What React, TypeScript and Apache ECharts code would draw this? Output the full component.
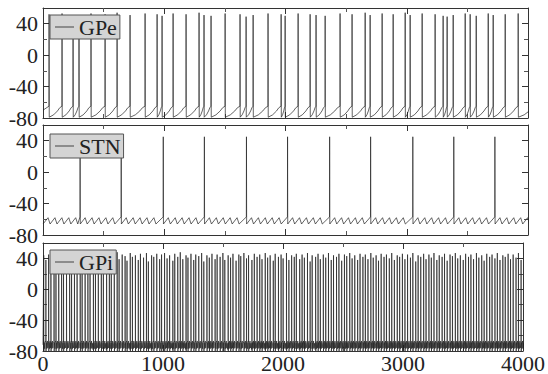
import React, { useEffect, useRef } from 'react';
import * as echarts from 'echarts';

const panelNames = ['GPe', 'STN', 'GPi'];
const xTickValues = [0, 1000, 2000, 3000, 4000];
const yTickValues = [-80, -40, 0, 40];

// GPe spike times (ms) and peak voltages (mV)
const gpeSpikeTimes = [50, 157, 248, 297, 396, 512, 611, 718, 842, 941, 982, 1073, 1180, 1287, 1328, 1386, 1502, 1625, 1675, 1733, 1856, 1964, 1997, 2104, 2203, 2252, 2327, 2450, 2549, 2657, 2698, 2797, 2888, 2987, 3028, 3127, 3234, 3300, 3333, 3383, 3482, 3523, 3573, 3672, 3713, 3812, 3919];
const gpePeaks = [52, 53, 51, 50, 53, 52, 54, 51, 53, 52, 50, 53, 52, 54, 51, 50, 53, 52, 49, 51, 53, 52, 50, 53, 52, 51, 50, 53, 52, 54, 51, 53, 52, 54, 51, 53, 52, 50, 49, 51, 53, 52, 50, 53, 51, 52, 53];

// STN spike times (ms) and peaks
const stnSpikeTimes = [306, 645, 992, 1331, 1678, 2017, 2364, 2702, 3050, 3388, 3727];
const stnPeaks = [45, 45, 45, 45, 45, 45, 45, 45, 45, 45, 45];

// GPi spikes: [time ms, peak mV]
const gpiSpikes: [number, number][] = [
  [6,44],[24,38],[47,45],[66,40],[92,47],[108,36],[131,43],[155,46],[171,39],[196,44],[222,41],[238,47],[262,35],[284,45],[310,42],[326,48],[351,37],[374,44],[392,46],[420,40],[437,45],[461,38],[486,47],[503,42],[530,44],[553,36],[569,46],[594,41],[618,48],[634,39],[660,45],[684,43],[700,37],[727,47],[745,42],[770,44],[794,38],[812,46],[838,41],[862,47],[878,36],[905,44],[923,42],[948,46],[972,39],[988,45],[1013,47],[1034,40],[1055,44],[1082,37],[1098,46],[1123,42],[1144,48],[1165,39],[1192,44],[1208,41],[1233,46],[1256,38],[1273,45],[1298,43],[1322,47],[1340,36],[1366,44],[1386,41],[1408,46],[1434,39],[1451,45],[1476,42],[1499,47],[1515,38],[1543,44],[1563,41],[1583,46],[1609,37],[1632,45],[1648,43],[1674,47],[1696,40],[1713,44],[1741,38],[1761,46],[1784,42],[1806,45],[1825,39],[1852,47],[1872,41],[1893,44],[1919,37],[1935,46],[1962,42],[1984,45],[2001,40],[2029,47],[2049,38],[2072,44],[2094,42],[2111,46],[2139,39],[2159,45],[2178,41],[2204,47],[2226,36],[2243,44],[2272,42],[2292,46],[2311,39],[2336,45],[2356,41],[2379,47],[2402,38],[2421,44],[2446,42],[2466,46],[2489,37],[2512,45],[2531,43],[2556,47],[2576,40],[2598,44],[2622,38],[2642,46],[2666,42],[2686,45],[2708,39],[2732,47],[2752,41],[2776,44],[2796,37],[2818,46],[2842,42],[2862,45],[2886,40],[2906,47],[2928,38],[2952,44],[2972,42],[2995,46],[3016,39],[3038,45],[3062,41],[3082,47],[3106,36],[3126,44],[3148,42],[3172,46],[3192,39],[3216,45],[3236,41],[3258,47],[3282,38],[3302,44],[3326,42],[3346,46],[3368,37],[3392,45],[3412,43],[3436,47],[3456,40],[3478,44],[3502,38],[3522,46],[3546,42],[3566,45],[3588,39],[3612,47],[3632,41],[3656,44],[3676,37],[3698,46],[3722,42],[3742,45],[3766,40],[3786,47],[3808,38],[3832,44],[3852,42],[3876,46],[3896,39],[3918,45],[3942,41],[3962,47],[3984,38]
];

// waveform templates
const gpeRamp: [number, number][] = [[0.35, -76], [0.65, -71], [0.82, -67]]; // fraction of ISI, mV
const stnTooth: [number, number][] = [[40, -58], [57, -66]]; // ms offset, mV
const gpiSub: [number, number][] = [[4, -69], [8, -77], [12, -67], [16, -76], [20, -70], [24, -78], [28, -68]];

const T_END = 4000;

function buildGpe(): number[][] {
  const pts: number[][] = [[0, -70], [gpeSpikeTimes[0] - 1, -65]];
  gpeSpikeTimes.forEach((t, i) => {
    const next = i + 1 < gpeSpikeTimes.length ? gpeSpikeTimes[i + 1] : T_END + 60;
    const d = next - t;
    pts.push([t, gpePeaks[i]], [t + 1.5, -79]);
    gpeRamp.forEach(([f, v]) => pts.push([t + f * d, v]));
    pts.push([next - 1, -65]);
  });
  return pts;
}

function buildStn(): number[][] {
  const pts: number[][] = [[0, -66]];
  const starts = [0, ...stnSpikeTimes];
  starts.forEach((s, i) => {
    const next = i < stnSpikeTimes.length ? stnSpikeTimes[i] : T_END + 60;
    if (i > 0) pts.push([s, stnPeaks[i - 1]], [s + 1.5, -66]);
    let u = s + 1.5;
    while (u + 57 < next - 10) {
      stnTooth.forEach(([o, v]) => pts.push([u + o, v]));
      u += 57;
    }
    pts.push([next - 1, -57]);
  });
  return pts;
}

function buildGpi(): number[][] {
  const pts: number[][] = [[0, -72]];
  gpiSpikes.forEach(([t, p], i) => {
    const next = i + 1 < gpiSpikes.length ? gpiSpikes[i + 1][0] : T_END + 30;
    pts.push([t, p], [t + 1.2, -80]);
    gpiSub.forEach(([o, v]) => {
      if (t + o < next - 2) pts.push([t + o, v]);
    });
    pts.push([next - 0.5, -68]);
  });
  return pts;
}

const FONT = "Times New Roman, Times, Liberation Serif, Nimbus Roman, serif";

export default function App() {
  const ref = useRef<HTMLDivElement>(null);
  useEffect(() => {
    if (!ref.current) return;
    const chart = echarts.init(ref.current, undefined, { renderer: 'svg' });
    const tops = [8, 125, 243];
    const heights = [110, 110, 109];
    const legendTops = [15, 134, 250];
    const grids = tops.map((t, i) => ({ left: 43, top: t, width: 485, height: heights[i] }));
    const xAxes: any[] = [];
    const yAxes: any[] = [];
    grids.forEach((_, g) => {
      const common = {
        gridIndex: g, type: 'value', min: xTickValues[0], max: xTickValues[xTickValues.length - 1], interval: 1000,
        axisLine: { show: true, onZero: false, lineStyle: { color: '#333', width: 1 } },
        axisTick: { show: true, inside: true, length: 6, lineStyle: { color: '#333' } },
        minorTick: { show: true, splitNumber: 2, length: 4, lineStyle: { color: '#555' } },
        splitLine: { show: false },
      };
      xAxes.push({
        ...common, position: 'bottom',
        axisLabel: { show: g === 2, fontFamily: FONT, fontSize: 22, color: '#222', margin: 1,
          formatter: (v: number) => (xTickValues.includes(v) ? String(v) : '') },
      });
      xAxes.push({ ...common, position: 'top', axisLabel: { show: false } });
      const ycommon = {
        gridIndex: g, type: 'value', min: yTickValues[0], max: 60, interval: 40,
        axisLine: { show: true, onZero: false, lineStyle: { color: '#333', width: 1 } },
        axisTick: { show: true, inside: true, length: 6, lineStyle: { color: '#333' } },
        minorTick: { show: true, splitNumber: 2, length: 4, lineStyle: { color: '#555' } },
        splitLine: { show: false },
      };
      yAxes.push({
        ...ycommon, position: 'left',
        axisLabel: { show: true, showMaxLabel: false, fontFamily: FONT, fontSize: 22, color: '#222', margin: 5,
          formatter: (v: number) => (yTickValues.includes(v) ? String(v) : '') },
      });
      yAxes.push({ ...ycommon, position: 'right', axisLabel: { show: false } });
    });
    const datas = [buildGpe(), buildStn(), buildGpi()];
    chart.setOption({
      animation: false,
      backgroundColor: '#ffffff',
      grid: grids,
      xAxis: xAxes,
      yAxis: yAxes,
      legend: panelNames.map((n, i) => ({
        data: [n], left: 50, top: legendTops[i], orient: 'horizontal',
        backgroundColor: '#d4d4d4', borderColor: '#555', borderWidth: 1, borderRadius: 0,
        padding: [1, 3, 1, 5], icon: 'rect', itemWidth: 19, itemHeight: 1,
        itemStyle: { color: '#444' },
        textStyle: { fontFamily: FONT, fontSize: 22, color: '#222' },
        selectedMode: false,
      })),
      series: panelNames.map((n, i) => ({
        name: n, type: 'line', xAxisIndex: i * 2, yAxisIndex: i * 2,
        data: datas[i], showSymbol: false, symbol: 'none',
        lineStyle: { color: '#222', width: 0.7 },
        itemStyle: { color: '#444' },
        z: 1,
      })),
    });
    return () => chart.dispose();
  }, []);
  return <div ref={ref} style={{ position: 'absolute', left: 0, top: 0, width: 548, height: 374 }} />;
}
